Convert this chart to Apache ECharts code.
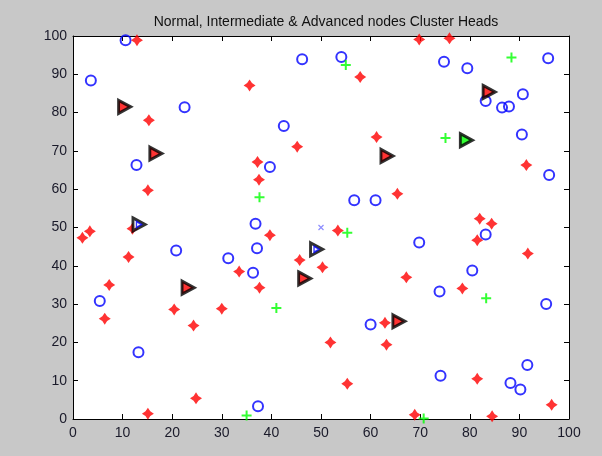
<!DOCTYPE html>
<html>
<head>
<meta charset="utf-8">
<script src="https://cdn.jsdelivr.net/npm/echarts@6/dist/echarts.min.js"></script>
<style>
  html, body { margin: 0; padding: 0; background: #c8c8c8; }
  #chart { width: 602px; height: 456px; }
</style>
</head>
<body>
<div id="chart"></div>
<script>
// Field of sensor nodes: x/y positions in a 100 x 100 area
const titleText = 'Normal, Intermediate & Advanced nodes Cluster Heads';
const tickValues = [0, 10, 20, 30, 40, 50, 60, 70, 80, 90, 100];

// Normal nodes (blue circles)
const normalX = [10.6, 3.6, 22.5, 42.5, 12.8, 39.7, 36.8, 46.2, 54.1, 74.8, 79.5, 95.8,
  90.7, 83.2, 86.5, 87.9, 90.5, 96.0, 56.7, 61.0, 20.8, 37.1, 31.3, 36.3, 5.4, 13.2,
  37.3, 69.8, 83.2, 80.5, 73.9, 95.4, 60.0, 74.1, 91.6, 88.2, 90.2];
const normalY = [98.9, 88.4, 81.4, 76.5, 66.3, 65.8, 51.0, 93.9, 94.5, 93.3, 91.6, 94.2,
  84.8, 83.0, 81.3, 81.6, 74.3, 63.7, 57.1, 57.1, 44.0, 44.6, 42.0, 38.2, 30.8, 17.4,
  3.3, 46.1, 48.2, 38.8, 33.3, 30.0, 24.7, 11.3, 14.1, 9.4, 7.7];

// Intermediate nodes (red stars)
const interX = [12.9, 35.6, 15.3, 45.2, 37.2, 37.5, 15.1, 1.9, 3.4, 12.0, 39.7, 11.2,
  7.3, 33.5, 37.6, 45.7, 20.4, 30.0, 6.4, 24.3, 24.8, 15.1, 50.3, 53.4, 67.2, 78.5,
  81.5, 82.0, 84.4, 91.7, 62.9, 63.2, 51.9, 55.3, 81.5, 96.5, 68.9, 84.5, 69.8, 75.9,
  57.9, 61.2, 91.4, 65.4];
const interY = [98.9, 87.1, 78.0, 71.1, 67.1, 62.5, 59.7, 47.3, 49.0, 49.7, 48.0, 42.3,
  35.0, 38.5, 34.3, 41.5, 28.6, 28.8, 26.2, 24.4, 5.4, 1.4, 39.6, 49.2, 37.0, 34.1,
  46.7, 52.3, 51.0, 43.2, 25.1, 19.4, 20.0, 9.2, 10.5, 3.7, 1.1, 0.7, 99.1, 99.4,
  89.3, 73.6, 66.3, 58.8];

// Advanced nodes (green plus)
const advX = [37.6, 55.0, 88.4, 75.1, 55.3, 41.0, 35.0, 83.3, 70.7];
const advY = [57.9, 92.4, 94.4, 73.4, 48.6, 29.0, 0.9, 31.5, 0.1];

// Sink
const sinkX = [50];
const sinkY = [50];

// Cluster heads: R = intermediate, G = advanced, N = normal
const chX = [10.4, 16.7, 13.3, 83.9, 79.3, 63.3, 23.2, 46.7, 49.1, 65.7];
const chY = [81.5, 69.3, 50.8, 85.4, 72.8, 68.7, 34.3, 36.7, 44.3, 25.5];
const chType = ['R', 'R', 'N', 'R', 'G', 'R', 'R', 'R', 'N', 'R'];

const zip = (xs, ys) => xs.map((x, i) => [x, ys[i]]);
const chFill = { R: '#ff0000', G: '#00ff00', N: '#ffffff' };

const starPath = 'path://M0,-5 L2,-2 L5,0 L2,2 L0,5 L-2,2 L-5,0 L-2,-2 Z';
const plusPath = 'path://M5,0 L5,10 M0,5 L10,5';
const crossPath = 'path://M0,0 L10,10 M0,10 L10,0';
const triPath = 'path://M0,0 L10,5 L0,10 Z';

const font = 'Liberation Sans, Arial, sans-serif';
const baseAxis = {
  type: 'value', min: 0, max: 100, interval: 10,
  axisLine: { show: true, onZero: false, lineStyle: { color: '#000', width: 1 } },
  axisTick: { show: true, inside: true, length: 5, lineStyle: { color: '#000' } },
  splitLine: { show: false },
  axisLabel: { color: '#1a1a2a', fontSize: 14, fontFamily: font }
};

const chart = echarts.init(document.getElementById('chart'), null, { renderer: 'canvas' });
chart.setOption({
  backgroundColor: '#c8c8c8',
  animation: false,
  title: {
    text: titleText, left: 321, top: 10, textAlign: 'center',
    textStyle: { fontSize: 14, fontWeight: 'normal', color: '#111', fontFamily: font }
  },
  grid: { left: 73, right: 33, top: 36, bottom: 37, show: true, backgroundColor: '#ffffff', borderWidth: 0 },
  xAxis: [
    Object.assign({}, baseAxis, { position: 'bottom', axisLabel: Object.assign({}, baseAxis.axisLabel, { margin: 7 }) }),
    Object.assign({}, baseAxis, { position: 'top', axisLabel: { show: false } })
  ],
  yAxis: [
    Object.assign({}, baseAxis, { position: 'left', axisLabel: Object.assign({}, baseAxis.axisLabel, { margin: 6 }) }),
    Object.assign({}, baseAxis, { position: 'right', axisLabel: { show: false } })
  ],
  series: [
    {
      name: 'Normal', type: 'scatter', data: zip(normalX, normalY),
      symbol: 'circle', symbolSize: 10,
      itemStyle: { color: 'rgba(0,0,0,0)', borderColor: '#0000ff', borderWidth: 2 }
    },
    {
      name: 'Intermediate', type: 'scatter', data: zip(interX, interY),
      symbol: starPath, symbolSize: 12,
      itemStyle: { color: '#ff0000' }
    },
    {
      name: 'Advanced', type: 'scatter', data: zip(advX, advY),
      symbol: plusPath, symbolSize: 10,
      itemStyle: { color: 'rgba(0,0,0,0)', borderColor: '#00ff00', borderWidth: 2 }
    },
    {
      name: 'Sink', type: 'scatter', data: zip(sinkX, sinkY),
      symbol: crossPath, symbolSize: 5,
      itemStyle: { color: 'rgba(0,0,0,0)', borderColor: '#7070ff', borderWidth: 1.2 }
    },
    {
      name: 'Cluster Heads', type: 'scatter',
      data: chX.map((x, i) => ({ value: [x, chY[i]], itemStyle: { color: chFill[chType[i]] } })),
      symbol: triPath, symbolSize: [12, 13],
      itemStyle: { borderColor: '#000', borderWidth: 3 }
    },
    {
      name: 'Normal CH core', type: 'scatter',
      data: chX.map((x, i) => [x, chY[i]]).filter((p, i) => chType[i] === 'N'),
      symbol: triPath, symbolSize: [5, 6],
      itemStyle: { color: 'rgba(0,0,0,0)', borderColor: '#0000ff', borderWidth: 1.5 }
    }
  ]
});
</script>
</body>
</html>
